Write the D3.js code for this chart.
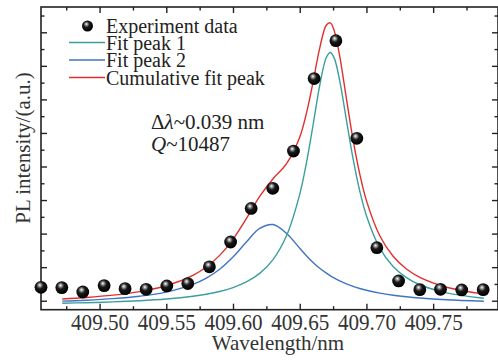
<!DOCTYPE html>
<html>
<head>
<meta charset="utf-8">
<script src="https://cdn.jsdelivr.net/npm/d3@7"></script>
<style>
  body { margin: 0; background: #fff; }
  svg { display: block; font-family: "Liberation Serif", "Times New Roman", serif; }
  svg text { font-family: "Liberation Serif", "Times New Roman", serif; }
</style>
</head>
<body>
<svg width="498" height="361"></svg>
<script>
// measured points
var expWave = [409.4561, 409.4717, 409.4874, 409.5034, 409.5191, 409.5349, 409.5504, 409.5661,
    409.5823, 409.5982, 409.6136, 409.6298, 409.6453, 409.6608, 409.6771, 409.6928,
    409.7078, 409.7241, 409.7400, 409.7555, 409.7714, 409.7875];
var expInt = [0.40, 0.39, 0.26, 0.45, 0.36, 0.34, 0.44, 0.51, 1.01, 1.75, 2.75, 3.35,
    4.46, 6.62, 7.75, 4.84, 1.58, 0.59, 0.33, 0.34, 0.32, 0.33];

// fit curves
var fitWave = [409.472, 409.49, 409.51, 409.53, 409.55, 409.57, 409.58, 409.59, 409.60, 409.61,
    409.62, 409.63, 409.64, 409.65, 409.655, 409.66, 409.665, 409.67, 409.673, 409.676,
    409.68, 409.685, 409.69, 409.695, 409.70, 409.71, 409.72, 409.73, 409.74, 409.76, 409.788];
var peak1 = [-0.074, -0.059, -0.036, -0.002, 0.049, 0.131, 0.192, 0.274, 0.390, 0.558,
    0.814, 1.225, 1.926, 3.170, 4.101, 5.235, 6.421, 7.258, 7.400, 7.216,
    6.549, 5.381, 4.227, 3.269, 2.533, 1.569, 1.019, 0.687, 0.475, 0.234, 0.075];
var peak2 = [-0.013, 0.015, 0.061, 0.134, 0.257, 0.486, 0.672, 0.937, 1.300, 1.748,
    2.153, 2.270, 2.010, 1.563, 1.342, 1.142, 0.968, 0.820, 0.742, 0.672,
    0.590, 0.502, 0.427, 0.365, 0.311, 0.227, 0.164, 0.116, 0.079, 0.027, -0.018];
var cumul = [0.053, 0.096, 0.165, 0.272, 0.446, 0.757, 1.004, 1.351, 1.830, 2.446,
    3.107, 3.635, 4.076, 4.873, 5.583, 6.517, 7.529, 8.218, 8.282, 8.028,
    7.279, 6.023, 4.794, 3.774, 2.984, 1.936, 1.323, 0.943, 0.694, 0.401, 0.197];

var xMajor = [409.50, 409.55, 409.60, 409.65, 409.70, 409.75];
var xMinor = [409.475, 409.525, 409.575, 409.625, 409.675, 409.725, 409.775];
var yMajor = [0, 1, 2, 3, 4, 5, 6, 7, 8];
var yMinor = [0.5, 1.5, 2.5, 3.5, 4.5, 5.5, 6.5, 7.5, 8.5];

var legendNames = ["Experiment data", "Fit peak 1", "Fit peak 2", "Cumulative fit peak"];
var colors = {peak1: "#3c9f9c", peak2: "#3f74c4", cumul: "#e0302e"};

var pLeft = 41, pRight = 498, pTop = 7, pBottom = 309.7;
var serif = "'Liberation Serif', 'Times New Roman', serif";

var svg = d3.select("svg");

var x = d3.scaleLinear()
    .domain([409.4561, 409.7986])
    .range([pLeft, pRight]);

var y = d3.scaleLinear()
    .domain([-0.268, 8.754])
    .range([pBottom, pTop]);

// sphere look for the dots
var grad = svg.append("defs").append("radialGradient")
    .attr("id", "ball")
    .attr("cx", "42%").attr("cy", "38%").attr("r", "60%")
    .attr("fx", "40%").attr("fy", "32%");
grad.append("stop").attr("offset", "0%").attr("stop-color", "#ffffff");
grad.append("stop").attr("offset", "18%").attr("stop-color", "#9a9a9a");
grad.append("stop").attr("offset", "45%").attr("stop-color", "#1a1a1a");
grad.append("stop").attr("offset", "100%").attr("stop-color", "#000000");

// frame
svg.append("rect")
    .attr("x", pLeft).attr("y", pTop)
    .attr("width", pRight - pLeft).attr("height", pBottom - pTop)
    .attr("fill", "none")
    .attr("stroke", "#222")
    .attr("stroke-width", 1.6);

// ticks, all pointing inward
function tickAxis(axis, values, size, transform, labels) {
    var g = svg.append("g")
        .attr("transform", transform)
        .call(axis.tickValues(values).tickSize(-size).tickPadding(3.5)
            .tickFormat(labels ? d3.format(".2f") : ""));
    g.select(".domain").remove();
    g.attr("font-family", serif).attr("font-size", 24);
    g.selectAll("line").attr("stroke", "#222").attr("stroke-width", 1.4);
    // labels in the figure are a bit condensed
    g.selectAll("text")
        .attr("fill", "#333")
        .attr("transform", "scale(0.88,1)")
        .style("font-family", serif);
    return g;
}
tickAxis(d3.axisBottom(x), xMajor, 6, "translate(0," + pBottom + ")", true);
tickAxis(d3.axisBottom(x), xMinor, 3.5, "translate(0," + pBottom + ")", false);
tickAxis(d3.axisTop(x), xMajor, 6, "translate(0," + pTop + ")", false);
tickAxis(d3.axisTop(x), xMinor, 3.5, "translate(0," + pTop + ")", false);
tickAxis(d3.axisLeft(y), yMajor, 6, "translate(" + pLeft + ",0)", false);
tickAxis(d3.axisLeft(y), yMinor, 3.5, "translate(" + pLeft + ",0)", false);
tickAxis(d3.axisRight(y), yMajor, 6, "translate(" + pRight + ",0)", false);
tickAxis(d3.axisRight(y), yMinor, 3.5, "translate(" + pRight + ",0)", false);

// curves
var line = d3.line()
    .x(function(d) { return x(d[0]); })
    .y(function(d) { return y(d[1]); })
    .curve(d3.curveCatmullRom.alpha(0.5));

function drawFit(values, color) {
    svg.append("path")
        .datum(fitWave.map(function(w, i) { return [w, values[i]]; }))
        .attr("d", line)
        .attr("fill", "none")
        .attr("stroke", color)
        .attr("stroke-width", 1.4);
}
drawFit(peak2, colors.peak2);
drawFit(peak1, colors.peak1);
drawFit(cumul, colors.cumul);

// experiment dots
svg.selectAll("circle.exp")
    .data(expWave)
    .enter().append("circle")
    .attr("class", "exp")
    .attr("cx", function(d) { return x(d); })
    .attr("cy", function(d, i) { return y(expInt[i]); })
    .attr("r", 6.4)
    .attr("fill", "url(#ball)");

// legend
var lg = svg.append("g").attr("font-size", 20).attr("fill", "#222");
lg.append("circle").attr("cx", 87.5).attr("cy", 26).attr("r", 5.5).attr("fill", "url(#ball)");
var legendLines = [
    {y: 42.5, color: colors.peak1},
    {y: 60, color: colors.peak2},
    {y: 77.5, color: colors.cumul}
];
lg.selectAll("line.lg")
    .data(legendLines)
    .enter().append("line")
    .attr("x1", 69).attr("x2", 105)
    .attr("y1", function(d) { return d.y; })
    .attr("y2", function(d) { return d.y; })
    .attr("stroke", function(d) { return d.color; })
    .attr("stroke-width", 1.4);
lg.selectAll("text")
    .data(legendNames)
    .enter().append("text")
    .attr("x", 106)
    .attr("y", function(d, i) { return [32.5, 49.5, 67, 84.5][i]; })
    .text(function(d) { return d; });

// annotation
var note = svg.append("g").attr("font-size", 21).attr("fill", "#222");
var t1 = note.append("text").attr("x", 151).attr("y", 128.5);
t1.append("tspan").text("Δ");
t1.append("tspan").style("font-style", "italic").text("λ");
t1.append("tspan").text("~0.039 nm");
var t2 = note.append("text").attr("x", 151).attr("y", 150.5);
t2.append("tspan").style("font-style", "italic").text("Q");
t2.append("tspan").text("~10487");

// axis titles
svg.append("text")
    .attr("x", 278).attr("y", 350)
    .attr("text-anchor", "middle")
    .attr("fill", "#333")
    .attr("font-size", 21)
    .text("Wavelength/nm");

svg.append("text")
    .attr("transform", "translate(30,148) rotate(-90)")
    .attr("text-anchor", "middle")
    .attr("fill", "#333")
    .attr("font-size", 21)
    .text("PL intensity/(a.u.)");
</script>
</body>
</html>
